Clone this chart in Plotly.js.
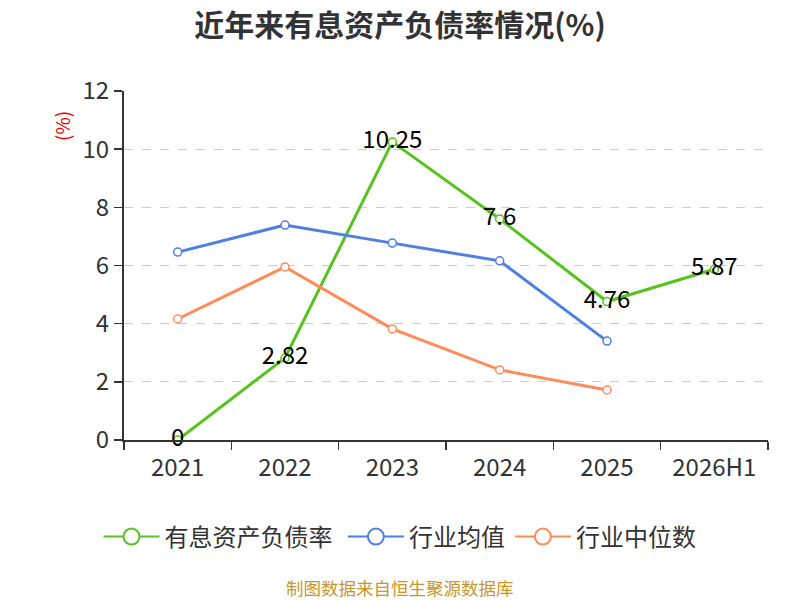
<!DOCTYPE html>
<html>
<head>
<meta charset="utf-8">
<script src="https://cdn.plot.ly/plotly-3.0.1.min.js"></script>
<style>
  body { margin: 0; }
  #chart { width: 800px; height: 600px; }
</style>
</head>
<body>
<div id="chart"></div>
<script>
var years = ["2021", "2022", "2023", "2024", "2025", "2026H1"];
var debtRatio = [0, 2.82, 10.25, 7.6, 4.76, 5.87];
var industryAvg = [6.46, 7.39, 6.77, 6.16, 3.40];
var industryMedian = [4.16, 5.95, 3.82, 2.41, 1.72];
var yTicks = [0, 2, 4, 6, 8, 10, 12];

var font = "Noto Sans CJK SC, Noto Sans, sans-serif";
var pageCenter = (400 - 124) / 644; // page centre in plot-area paper units

function series(name, y, color, withText) {
  var t = {
    x: years.slice(0, y.length),
    y: y,
    name: name,
    type: "scatter",
    mode: withText ? "lines+markers+text" : "lines+markers",
    line: { color: color, width: 3 },
    marker: { symbol: "circle", size: 8, color: "#fff", line: { color: color, width: 1.5 } },
    cliponaxis: false,
    showlegend: false
  };
  if (withText) {
    t.text = y.map(String);
    t.textposition = "middle center";
    t.textfont = { family: font, size: 24, color: "#000" };
  }
  return t;
}

// legend-only entries with a larger circle, like the reference legend
function legendEntry(name, color) {
  return {
    x: [null], y: [null],
    name: name,
    type: "scatter",
    mode: "lines+markers",
    line: { color: color, width: 2 },
    marker: { symbol: "circle", size: 22, color: "#fff", line: { color: color, width: 2 } },
    hoverinfo: "skip"
  };
}

var traces = [
  series("有息资产负债率", debtRatio, "#58c21e", true),
  series("行业均值", industryAvg, "#4f7fe0", false),
  series("行业中位数", industryMedian, "#fd8c5a", false),
  legendEntry("有息资产负债率\u00a0", "#58c21e"),
  legendEntry("行业均值", "#4f7fe0"),
  legendEntry("行业中位数", "#fd8c5a")
];

var layout = {
  width: 800,
  height: 600,
  margin: { l: 124, r: 32, t: 91, b: 160 },
  paper_bgcolor: "#fff",
  plot_bgcolor: "#fff",
  title: {
    text: "<b>近年来有息资产负债率情况(%)</b>",
    font: { family: font, size: 30, color: "#333" },
    x: 0.5, xanchor: "center", y: 0.958, yanchor: "middle"
  },
  xaxis: {
    type: "category",
    range: [-0.5, 5.5],
    tickson: "boundaries",
    ticks: "outside",
    ticklen: 8,
    tickwidth: 1.5,
    tickcolor: "#333",
    showline: true,
    linecolor: "#333",
    linewidth: 2,
    showgrid: false,
    ticklabelstandoff: 5,
    tickfont: { family: font, size: 24, color: "#333" },
    fixedrange: true
  },
  yaxis: {
    range: [0, 12],
    tickvals: yTicks,
    ticks: "outside",
    ticklen: 8,
    tickwidth: 1.5,
    tickcolor: "#333",
    showline: true,
    linecolor: "#333",
    linewidth: 2,
    showgrid: true,
    gridcolor: "#ccc",
    griddash: "dash",
    gridwidth: 1.2,
    zeroline: false,
    tickfont: { family: font, size: 24, color: "#333" },
    fixedrange: true
  },
  showlegend: true,
  legend: {
    orientation: "h",
    x: pageCenter, xanchor: "center",
    y: -0.278, yanchor: "middle",
    font: { family: font, size: 24, color: "#333" },
    itemwidth: 56,
    itemsizing: "trace"
  },
  annotations: [
    {
      text: "(%)",
      xref: "paper", yref: "paper",
      x: -0.096, y: 0.9,
      xanchor: "center", yanchor: "middle",
      showarrow: false,
      textangle: -90,
      font: { family: font, size: 19, color: "#e00" }
    },
    {
      text: "制图数据来自恒生聚源数据库",
      xref: "paper", yref: "paper",
      x: pageCenter, y: -0.422,
      xanchor: "center", yanchor: "middle",
      showarrow: false,
      font: { family: font, size: 17.5, color: "#c8962a" }
    }
  ]
};

Plotly.newPlot("chart", traces, layout, { displayModeBar: false, staticPlot: true });
</script>
</body>
</html>
